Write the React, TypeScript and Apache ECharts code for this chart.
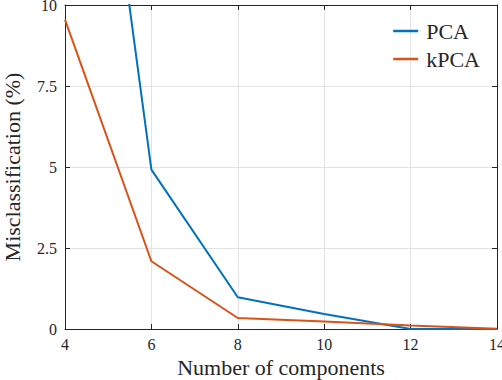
import React, { useEffect, useRef } from "react";
import * as echarts from "echarts";

// Number of retained components and misclassification rates (%)
const components = [4, 6, 8, 10, 12, 14];
const pcaError = [24.8, 4.92, 0.98, 0.46, 0.0, 0.0];
const kpcaError = [9.55, 2.09, 0.34, 0.23, 0.11, 0.01];
const yTickLabels = ["0", "2.5", "5", "7.5", "10"];

const FONT = "'Liberation Serif', 'DejaVu Serif', serif";
const INK = "#262626";
const GRID = "#e3e3e3";

export default function App() {
  const ref = useRef<HTMLDivElement>(null);

  useEffect(() => {
    if (!ref.current) return;
    const chart = echarts.init(ref.current, null, { renderer: "svg" });

    const frameAxis = {
      axisLine: { show: true, onZero: false, lineStyle: { color: INK, width: 1 } },
      axisTick: { show: true, inside: true, length: 5, lineStyle: { color: INK } },
    };

    chart.setOption({
      animation: false,
      backgroundColor: "#ffffff",
      grid: {
        left: 65,
        right: 5,
        top: 5,
        bottom: 51,
        containLabel: false,
        outerBoundsMode: "none",
      },
      legend: {
        orient: "vertical",
        right: 17,
        top: 15,
        icon: "rect",
        itemWidth: 25,
        itemHeight: 2.5,
        itemGap: 6,
        textStyle: {
          fontFamily: FONT,
          fontSize: 22,
          color: INK,
          lineHeight: 22,
          padding: [0, 0, 0, 3],
        },
        data: ["PCA", "kPCA"],
      },
      xAxis: [
        {
          type: "value",
          min: 4,
          max: 14,
          interval: 2,
          position: "bottom",
          ...frameAxis,
          axisLabel: { fontFamily: FONT, fontSize: 16, color: INK, margin: 7 },
          splitLine: { show: true, lineStyle: { color: GRID, width: 1 } },
          name: "Number of components",
          nameLocation: "middle",
          nameGap: 27,
          nameTextStyle: { fontFamily: FONT, fontSize: 22, color: INK },
        },
        {
          type: "value",
          min: 4,
          max: 14,
          interval: 2,
          position: "top",
          ...frameAxis,
          axisLabel: { show: false },
          splitLine: { show: false },
        },
      ],
      yAxis: [
        {
          type: "value",
          min: 0,
          max: 10,
          interval: 2.5,
          position: "left",
          ...frameAxis,
          axisLabel: {
            fontFamily: FONT,
            fontSize: 16,
            color: INK,
            margin: 8,
            formatter: (v: number) => yTickLabels[Math.round(v / 2.5)] ?? String(v),
          },
          splitLine: { show: true, lineStyle: { color: GRID, width: 1 } },
          name: "Misclassification (%)",
          nameLocation: "middle",
          nameGap: 42,
          nameTextStyle: { fontFamily: FONT, fontSize: 22, color: INK },
        },
        {
          type: "value",
          min: 0,
          max: 10,
          interval: 2.5,
          position: "right",
          ...frameAxis,
          axisLabel: { show: false },
          splitLine: { show: false },
        },
      ],
      series: [
        {
          name: "PCA",
          type: "line",
          xAxisIndex: 0,
          yAxisIndex: 0,
          data: components.map((c, i) => [c, pcaError[i]]),
          symbol: "none",
          clip: true,
          color: "#0072BD",
          lineStyle: { width: 2, color: "#0072BD" },
          z: 3,
        },
        {
          name: "kPCA",
          type: "line",
          xAxisIndex: 0,
          yAxisIndex: 0,
          data: components.map((c, i) => [c, kpcaError[i]]),
          symbol: "none",
          clip: true,
          color: "#D95319",
          lineStyle: { width: 2, color: "#D95319" },
          z: 4,
        },
      ],
    });

    return () => chart.dispose();
  }, []);

  return (
    <div
      ref={ref}
      style={{ width: 502, height: 380, position: "absolute", left: 0, top: 0 }}
    />
  );
}
